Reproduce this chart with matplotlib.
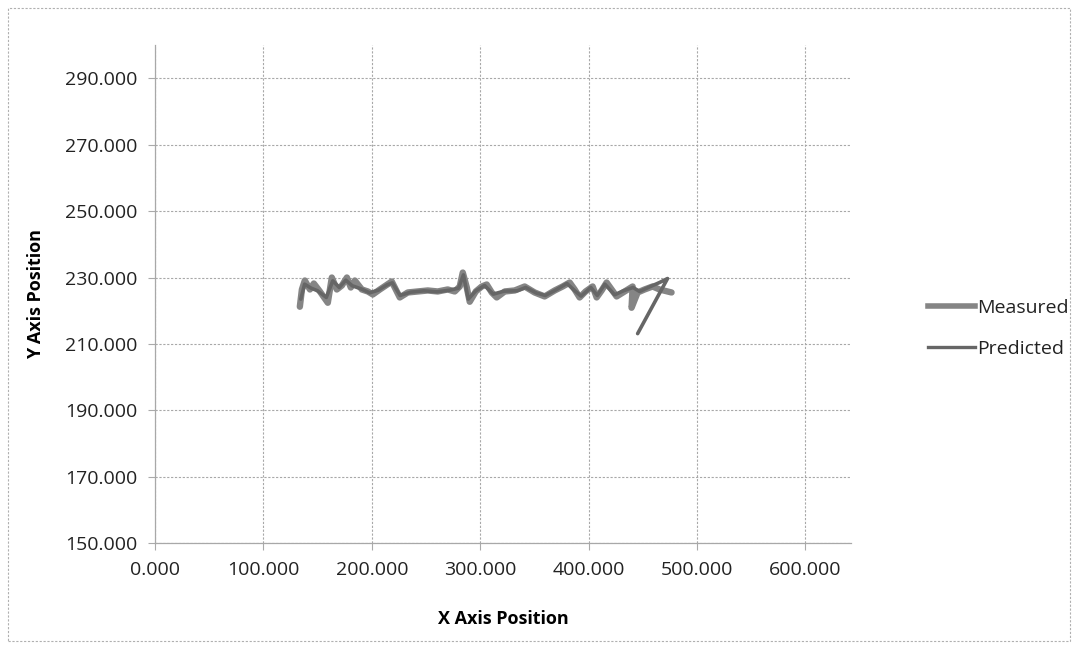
import matplotlib
matplotlib.use("Agg")
import matplotlib.pyplot as plt
from matplotlib.patches import Rectangle
from matplotlib.lines import Line2D

plt.rcParams['font.family'] = ['Open Sans', 'DejaVu Sans']

# Measured trajectory (x, y)
measured_x = [133.6, 135.5, 138.2, 142.9, 146.5, 152.1, 159.4, 163.1, 167.7, 172.4,
              177.0, 180.6, 184.3, 190.8, 196.3, 200.9, 207.4, 212.9, 218.4, 222.1,
              225.8, 233.2, 242.4, 251.6, 260.8, 270.0, 276.5, 281.1, 283.9, 287.6,
              290.3, 295.9, 301.4, 306.0, 310.6, 315.2, 322.6, 331.8, 341.0, 350.2,
              359.4, 368.7, 376.0, 382.5, 387.1, 391.7, 397.2, 403.7, 407.4, 412.0,
              416.6, 421.2, 425.8, 433.2, 440.6, 439.6, 445.2, 451.6, 459.0, 465.4,
              476.5]
measured_y = [221.2, 226.4, 229.1, 226.4, 228.2, 225.8, 222.4, 230.0, 226.4, 227.6,
              230.0, 227.0, 229.1, 226.4, 225.8, 224.9, 226.4, 227.6, 228.8, 226.4,
              224.0, 225.5, 225.8, 226.1, 225.8, 226.4, 225.8, 227.3, 231.5, 227.0,
              222.7, 225.8, 227.3, 227.9, 225.5, 224.0, 225.8, 226.1, 227.3, 225.5,
              224.3, 226.1, 227.3, 228.5, 226.4, 224.0, 225.8, 227.3, 224.0, 226.1,
              228.5, 226.4, 224.3, 225.8, 227.3, 220.9, 225.5, 226.4, 227.3, 226.4,
              225.5]

# Predicted trajectory (x, y)
predicted_x = [134.5, 138.0, 144.0, 150.0, 158.0, 164.0, 170.0, 176.0, 182.0, 190.0,
               198.0, 206.0, 214.0, 219.0, 226.0, 236.0, 248.0, 260.0, 272.0, 280.0,
               284.5, 289.0, 296.0, 304.0, 312.0, 322.0, 334.0, 342.0, 352.0, 360.0,
               370.0, 380.0, 388.0, 393.0, 402.0, 408.0, 415.0, 424.0, 432.0, 441.0,
               447.0, 455.0, 465.4, 472.8, 445.2]
predicted_y = [223.5, 228.0, 226.8, 226.0, 224.0, 229.0, 227.0, 229.2, 227.5, 226.6,
               225.4, 226.2, 227.8, 228.4, 224.6, 225.6, 226.0, 225.7, 226.2, 226.8,
               230.8, 223.5, 226.0, 227.6, 225.0, 225.9, 226.0, 227.0, 225.3, 224.6,
               226.3, 228.2, 225.8, 224.4, 227.0, 224.6, 228.0, 224.8, 226.0, 227.0,
               225.8, 227.0, 228.5, 229.7, 213.1]

x_ticks = [0, 100, 200, 300, 400, 500, 600]
y_ticks = [150, 170, 190, 210, 230, 250, 270, 290]

fig = plt.figure(figsize=(10.75, 6.46), dpi=100)
ax = fig.add_axes([0.1442, 0.1594, 0.6474, 0.7706])

ax.plot(measured_x, measured_y, color='#858585', lw=4.6, solid_joinstyle='round',
        solid_capstyle='round', label='Measured', zorder=3)
ax.plot(predicted_x, predicted_y, color='#666666', lw=2.6, solid_joinstyle='round',
        solid_capstyle='round', label='Predicted', zorder=4)

ax.set_xlim(0, 642)
ax.set_ylim(150, 300)
ax.set_xticks(x_ticks)
ax.set_yticks(y_ticks)
ax.set_xticklabels([f"{v:.3f}" for v in x_ticks])
ax.set_yticklabels([f"{v:.3f}" for v in y_ticks])
ax.tick_params(axis='both', labelsize=14, colors='#222222', length=5,
               width=0.8, color='#aaaaaa', pad=8)

ax.grid(True, color='#a8a8a8', lw=0.8, ls=(0, (2, 1.5)))
ax.set_axisbelow(True)
for side in ('top', 'right'):
    ax.spines[side].set_visible(False)
for side in ('left', 'bottom'):
    ax.spines[side].set_color('#a8a8a8')
    ax.spines[side].set_linewidth(0.9)

ax.set_xlabel('X Axis Position', fontsize=13, fontweight='bold', labelpad=22)
ax.set_ylabel('Y Axis Position', fontsize=13, fontweight='bold', labelpad=14)

handles = [Line2D([], [], color='#858585', lw=4.0),
           Line2D([], [], color='#666666', lw=2.4)]
fig.legend(handles, ['Measured', 'Predicted'], loc='center left',
           bbox_to_anchor=(0.847, 0.4915), frameon=False, fontsize=14,
           handlelength=2.4, handletextpad=0.1, labelspacing=1.2,
           labelcolor='#222222')

fig.patches.append(Rectangle((0.007, 0.008), 0.988, 0.98, transform=fig.transFigure,
                             fill=False, ec='#b0b0b0', lw=0.8, ls=(0, (2, 1.5))))

fig.savefig('out.png', dpi=100, facecolor='white')
